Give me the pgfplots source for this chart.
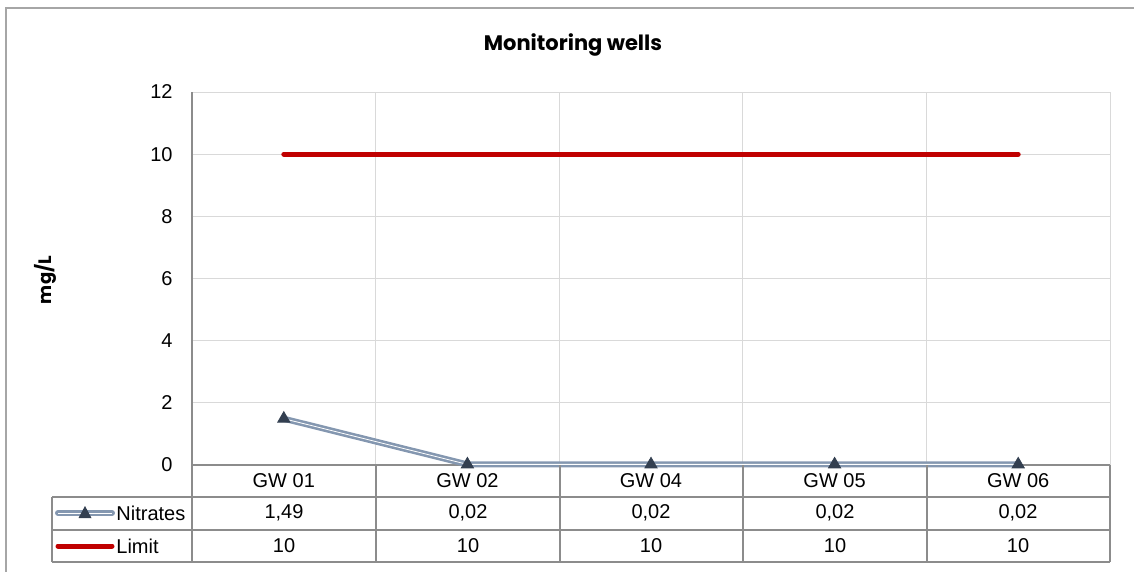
\documentclass[border=0pt]{standalone}
\usepackage{fontspec}
\setmainfont{Liberation Sans}
\newfontfamily\titlefont{Poppins}
\usepackage{pgfplots}
\pgfplotsset{compat=1.18}
\definecolor{nitro}{HTML}{8497B0}
\definecolor{navy}{HTML}{333F50}
\definecolor{limitred}{HTML}{C00000}
\definecolor{gridgray}{HTML}{D9D9D9}
\definecolor{tablegray}{HTML}{8C8C8C}
\definecolor{framegray}{HTML}{A6A6A6}

\begin{document}
\begin{tikzpicture}[x=0.5pt,y=-0.5pt]
\useasboundingbox (0,0) rectangle (1134,572);
% chart frame (only left and top visible)
\draw[framegray, line width=1pt] (5.5,572) -- (5.5,8.5) -- (1134,8.5);
\node[font=\titlefont\bfseries\fontsize{10.5}{12}\selectfont] at (573,45) {Monitoring wells};
\node[rotate=90, font=\titlefont\bfseries\fontsize{9}{10}\selectfont] at (45,280) {mg/L};

\begin{axis}[
    at={(96pt,-232.5pt)}, anchor=south west,
    scale only axis, width=459pt, height=186.5pt,
    xmin=-0.5, xmax=4.5, ymin=0, ymax=12,
    ytick={0,2,...,12},
    xtick={0,...,4},
    xticklabels={GW 01,GW 02,GW 04,GW 05,GW 06},
    minor xtick={0.5,1.5,2.5,3.5,4.5},
    xminorgrids, ymajorgrids,
    grid style={gridgray, line width=0.5pt},
    minor grid style={gridgray, line width=0.5pt},
    axis x line*=bottom, axis y line*=left,
    axis line style={-, tablegray, line width=0.75pt},
    major tick length=0pt, minor tick length=0pt,
    tick style={draw=none},
    /pgf/number format/assume math mode=true,
    tick label style={font=\fontsize{10}{12}\selectfont},
    yticklabel style={xshift=-6.2pt},
    xticklabel style={anchor=center, yshift=-8pt},
    clip=false,
]
% Limit
\addplot[limitred, line width=2.5pt, line cap=round, no marks]
    coordinates {(0,10) (1,10) (2,10) (3,10) (4,10)};
% Nitrates (double line + triangle marks)
\addplot[nitro, line width=3pt, line cap=round, no marks]
    coordinates {(0,1.49) (1,0.02) (2,0.02) (3,0.02) (4,0.02)};
\addplot[white, line width=0.4pt, no marks]
    coordinates {(0,1.49) (1,0.02) (2,0.02) (3,0.02) (4,0.02)};
\addplot[only marks, mark=triangle*, mark size=3.5pt, mark options={fill=navy, draw=navy}]
    coordinates {(0,1.49) (1,0.02) (2,0.02) (3,0.02) (4,0.02)};
\end{axis}

% data table
\draw[tablegray, line width=0.75pt]
    (52,497) -- (1110,497) (52,530) -- (1110,530) (52,562) -- (1110,562)
    (52,497) -- (52,562) (192,465) -- (192,562);
\foreach \x in {376,560,743,927,1110}
    \draw[tablegray, line width=0.75pt] (\x,465) -- (\x,562);
% legend keys
\draw[nitro, line width=3pt, line cap=round] (58,513) -- (112,513);
\draw[white, line width=0.4pt] (58,513) -- (112,513);
\fill[navy] (85,506) -- (91.5,518) -- (78.5,518) -- cycle;
\draw[limitred, line width=2.5pt, line cap=round] (58,546) -- (112,546);
\node[anchor=west, inner sep=0pt] at (116,513) {Nitrates};
\node[anchor=west, inner sep=0pt] at (116,546) {Limit};
% values
\node at (284,513) {1,49};
\node at (468,513) {0,02};
\node at (651,513) {0,02};
\node at (835,513) {0,02};
\node at (1018,513) {0,02};
\foreach \x in {284,468,651,835,1018}
    \node at (\x,546) {10};
\end{tikzpicture}
\end{document}
